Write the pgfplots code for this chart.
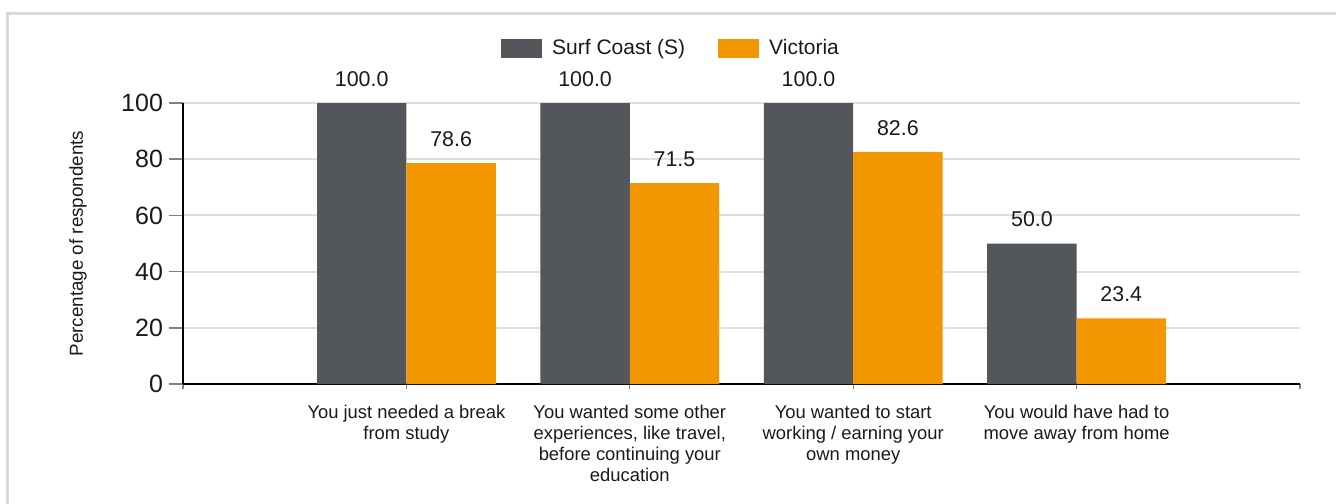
\documentclass[border=0pt]{standalone}
\usepackage{pgfplots}
\pgfplotsset{compat=1.18}
\usepackage{fontspec}
\setmainfont{Liberation Sans}
\definecolor{surf}{HTML}{53565A}
\definecolor{vic}{HTML}{F39700}
\definecolor{gridc}{HTML}{DEDEDE}
\definecolor{framec}{HTML}{D9D9D9}
\definecolor{tickc}{HTML}{808080}
\definecolor{txt}{HTML}{1A1A1A}
\begin{document}
\begin{tikzpicture}
\useasboundingbox (0,0) rectangle (668pt,-251.5pt);
\draw[framec, line width=1.5pt] (3.5pt,-260pt) -- (3.5pt,-6.5pt) -- (680pt,-6.5pt);
\begin{axis}[
  at={(91.5pt,-192pt)}, anchor=south west,
  scale only axis, width=558.5pt, height=140.5pt,
  xmin=-1, xmax=4, ymin=0, ymax=100,
  axis lines=left, axis line style={-, black, line width=1pt},
  /pgf/number format/assume math mode=true,
  ytick={0,20,40,60,80,100},
  xtick={-1,0,1,2,3,4},
  xticklabels={{},{You just needed a break\\from study},{You wanted some other\\experiences, like travel,\\before continuing your\\education},{You wanted to start\\working / earning your\\own money},{You would have had to\\move away from home},{}},
  tick align=outside,
  major tick length=7pt,
  ytick style={tickc, line width=0.75pt},
  xtick style={tickc, line width=0.6pt, /pgfplots/major tick length=2.5pt},
  yticklabel style={font=\fontsize{12.5}{14}\selectfont, text=txt, xshift=0.5pt},
  xticklabel style={font=\fontsize{9.2}{10.5}\selectfont, text=txt, align=center, yshift=0pt},
  ymajorgrids, grid style={gridc, line width=1pt},
  ylabel={Percentage of respondents},
  ylabel style={at={(axis description cs:-0.094,0.5)}, anchor=center, font=\fontsize{9.4}{11}\selectfont, text=txt},
  ybar, bar width=0.4,
  nodes near coords,
  every node near coord/.append style={font=\fontsize{10.7}{12}\selectfont, text=txt, anchor=south, inner sep=0pt, yshift=8pt, /pgf/number format/.cd, fixed, fixed zerofill, precision=1},
  legend columns=2,
  legend style={at={(0.436,1.194)}, anchor=center, draw=none, fill=none, inner sep=0pt,
    font=\fontsize{10.5}{12}\selectfont, text=txt,
    nodes={inner sep=0pt},
    /tikz/every odd column/.append style={column sep=5pt},
    /tikz/every even column/.append style={column sep=16.5pt}},
]
\addplot[fill=surf, draw=none, bar shift=-0.2,
  legend image code/.code={\fill[surf] (0pt,-4.75pt) rectangle (20.5pt,4.75pt);}]
  coordinates {(0,100.0) (1,100.0) (2,100.0) (3,50.0)};
\addplot[fill=vic, draw=none, bar shift=0.2,
  legend image code/.code={\fill[vic] (0pt,-4.75pt) rectangle (20.5pt,4.75pt);}]
  coordinates {(0,78.6) (1,71.5) (2,82.6) (3,23.4)};
\legend{Surf Coast (S),Victoria}
\end{axis}
\end{tikzpicture}
\end{document}
